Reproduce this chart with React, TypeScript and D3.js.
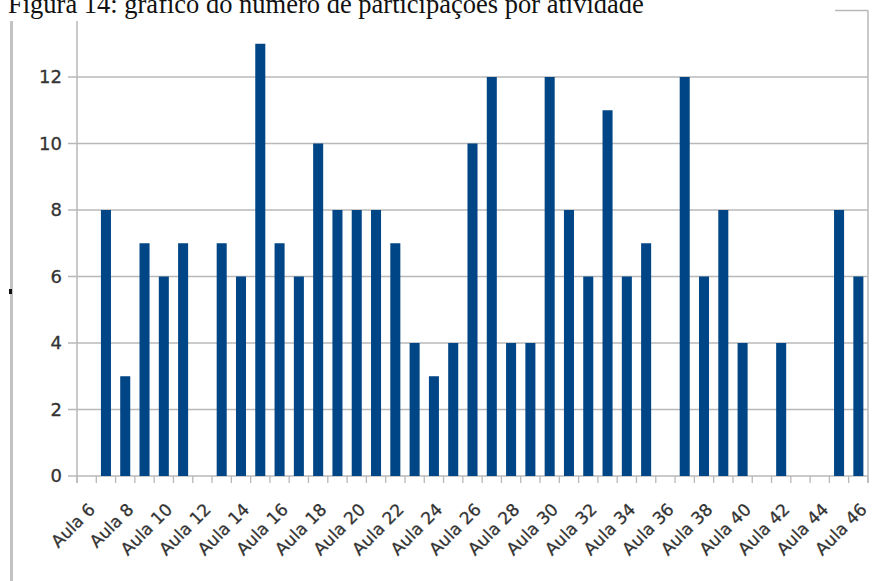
import React from "react";
import * as d3 from "d3";

const title = "Figura 14: gráfico do número de participações por atividade";

const lessons: string[] = [
  "Aula 6", "Aula 7", "Aula 8", "Aula 9", "Aula 10", "Aula 11", "Aula 12", "Aula 13",
  "Aula 14", "Aula 15", "Aula 16", "Aula 17", "Aula 18", "Aula 19", "Aula 20", "Aula 21",
  "Aula 22", "Aula 23", "Aula 24", "Aula 25", "Aula 26", "Aula 27", "Aula 28", "Aula 29",
  "Aula 30", "Aula 31", "Aula 32", "Aula 33", "Aula 34", "Aula 35", "Aula 36", "Aula 37",
  "Aula 38", "Aula 39", "Aula 40", "Aula 41", "Aula 42", "Aula 43", "Aula 44", "Aula 45",
  "Aula 46",
];

const participations: number[] = [
  0, 8, 3, 7, 6, 7, 0, 7,
  6, 13, 7, 6, 10, 8, 8, 8,
  7, 4, 3, 4, 10, 12, 4, 4,
  12, 8, 6, 11, 6, 7, 0, 12,
  6, 8, 4, 0, 4, 0, 0, 8,
  6,
];

const yTicks: number[] = [0, 2, 4, 6, 8, 10, 12];

const W = 873;
const H = 581;
const left = 77;
const right = 868;
const bottom = 476;
const top = 10.5;

export default function App() {
  const x = d3.scaleBand<string>().domain(lessons).range([left, right]).padding(0);
  const y = d3.scaleLinear().domain([0, 14]).range([bottom, top]);
  const bw = x.bandwidth();
  const barW = bw * 0.52;
  const grid = "#b8b8b8";
  const textCol = "#333";
  const sans = "'DejaVu Sans', sans-serif";

  return (
    <svg
      width={W}
      height={H}
      style={{ position: "absolute", left: 0, top: 0, background: "#fff" }}
    >
      <rect x={0} y={0} width={W} height={H} fill="#fff" />

      {/* horizontal gridlines with outward ticks */}
      {yTicks.map((t) => (
        <line key={"g" + t} x1={left - 9} x2={right} y1={y(t)} y2={y(t)} stroke={grid} strokeWidth={1.3} />
      ))}
      <line x1={left - 9} x2={right} y1={y(14)} y2={y(14)} stroke={grid} strokeWidth={1.3} />

      {/* frame */}
      <line x1={left} x2={left} y1={y(14)} y2={bottom + 7} stroke={grid} strokeWidth={1.5} />
      <line x1={right} x2={right} y1={y(14)} y2={bottom + 7} stroke={grid} strokeWidth={1.5} />

      {/* category boundary ticks */}
      {d3.range(lessons.length + 1).map((i) => {
        const xp = left + i * bw;
        return <line key={"t" + i} x1={xp} x2={xp} y1={bottom} y2={bottom + 7} stroke={grid} strokeWidth={1.3} />;
      })}

      {/* bars */}
      {participations.map((v, i) =>
        v > 0 ? (
          <rect
            key={"b" + i}
            x={(x(lessons[i]) as number) + (bw - barW) / 2}
            y={y(v)}
            width={barW}
            height={bottom - y(v)}
            fill="#004586"
          />
        ) : null
      )}

      {/* y tick labels */}
      {yTicks.map((t) => (
        <text
          key={"yl" + t}
          x={62}
          y={y(t)}
          dy="0.36em"
          textAnchor="end"
          fontFamily={sans}
          fontSize={18}
          fill={textCol}
          stroke={textCol}
          strokeWidth={0.3}
        >
          {t}
        </text>
      ))}

      {/* x tick labels, every other lesson */}
      {lessons.map((l, i) =>
        i % 2 === 0 ? (
          <text
            key={"xl" + i}
            transform={`translate(${(x(l) as number) + bw / 2 + 1},${502}) rotate(-45)`}
            dy="0.71em"
            textAnchor="end"
            fontFamily={sans}
            fontSize={17}
            fill={textCol}
            stroke={textCol}
            strokeWidth={0.3}
          >
            {l}
          </text>
        ) : null
      )}

      {/* caption box over the top of the chart */}
      <rect x={0} y={0} width={835} height={21} fill="#fff" />
      <line x1={11.5} x2={11.5} y1={21} y2={H} stroke="#c2c2c2" strokeWidth={3} />
      <rect x={9} y={289} width={3} height={5} fill="#111" />

      <text x={8} y={12.5} fontFamily="'Liberation Serif', 'Times New Roman', serif" fontSize={26.5} fill="#111">
        {title}
      </text>
    </svg>
  );
}
